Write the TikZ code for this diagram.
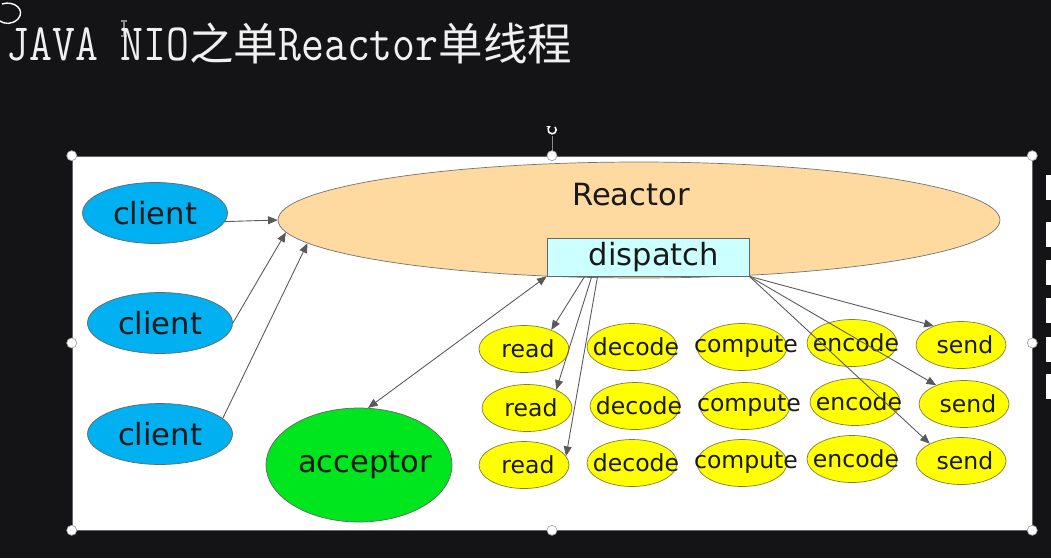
\documentclass[tikz,border=0pt]{standalone}
\usepackage{graphicx}
\usepackage{fontspec}
\setmainfont{DejaVu Sans}
\newfontfamily\cjk{Noto Sans CJK SC}
\usetikzlibrary{shapes.geometric, arrows.meta, positioning, calc}

\definecolor{bgdark}{RGB}{20,20,22}
\definecolor{clientblue}{RGB}{0,176,240}
\definecolor{reactorfill}{RGB}{255,218,160}
\definecolor{dispfill}{RGB}{204,255,255}
\definecolor{accgreen}{RGB}{0,230,30}
\definecolor{taskfill}{RGB}{255,255,0}
\definecolor{taskline}{RGB}{130,125,60}

\newcommand{\tmono}[1]{\scalebox{1}[1.18]{\ttfamily\addfontfeatures{FakeBold=2.5}#1}}

\begin{document}
\begin{tikzpicture}[
        x=0.02cm, y=-0.02cm,
        slide/.style={rectangle, fill=white, draw=black!60, line width=0.4pt, minimum width=19.2cm, minimum height=7.48cm, inner sep=0pt},
        handle/.style={circle, draw=black!35, fill=white, line width=0.4pt, inner sep=0pt, minimum size=0.2cm},
        titletxt/.style={text=white!94!black, font=\fontsize{25.3}{30}\selectfont, inner sep=0pt},
        bigtxt/.style={text=black!90, font=\fontsize{17.4}{20}\selectfont, inner sep=0pt},
        client/.style={ellipse, draw=black!60, fill=clientblue, minimum width=2.9cm, minimum height=1.22cm, inner sep=0pt, bigtxt},
        reactorbox/.style={ellipse, draw=black!55, fill=reactorfill, minimum width=14.44cm, minimum height=2.32cm, inner sep=0pt},
        dispbox/.style={rectangle, draw=black!60, fill=dispfill, minimum width=4.04cm, minimum height=0.76cm, inner sep=0pt, bigtxt},
        accbox/.style={ellipse, draw=black!60, fill=accgreen, minimum width=3.72cm, minimum height=2.28cm, inner sep=0pt, bigtxt},
        task/.style={ellipse, draw=taskline, fill=taskfill, minimum width=1.8cm, minimum height=0.94cm, inner sep=0pt, text=black!90, font=\fontsize{13.4}{16}\selectfont},
        conn/.style={draw=black!65, line width=0.5pt, -{Triangle[length=5.5pt,width=4.5pt]}},
        conn2/.style={draw=black!65, line width=0.5pt, {Triangle[length=5.5pt,width=4.5pt]}-{Triangle[length=5.5pt,width=4.5pt]}}
    ]
        \useasboundingbox (0,0) rectangle (1051,558);
        \fill[bgdark] (0,0) rectangle (1051,558);
        \draw[white, line width=0.8pt] (2,4) .. controls (14,0) and (26,10) .. (18,19) .. controls (12,25) and (4,24) .. (0,21);
        \draw[black!45, line width=0.6pt] (124,21) -- (124,36) (121,21) -- (127,21) (121,36) -- (127,36);
        \foreach \y in {175,222,260,298,337,374}
            \fill[white] (1046,\y) rectangle (1051,\y+25);

        \node[titletxt, anchor=base west] (title) at (6,60) {\tmono{JAVA NIO}{\cjk 之单}\tmono{Reactor}{\cjk 单线程}};

        \node[slide] (slide) at (552,343) {};
        \draw[black!45, line width=0.5pt] (slide.north) -- ++(0,-20);
        \draw[white, line width=0.9pt, -{Stealth[length=2.5pt]}] (555,127) arc[start angle=45, end angle=-250, radius=0.08cm];
        \foreach \a [count=\i] in {north west, north, north east, east, south east, south, south west, west}
            \node[handle] (h\i) at (slide.\a) {};

        \node[reactorbox] (reactor) at (639,220) {};
        \node[bigtxt, anchor=base] (reactortxt) at ([shift={(-8,-15)}]reactor.center) {Reactor};
        \node[dispbox] (dispatch) at (648,257) {\hspace{0.24cm}dispatch};

        \node[client] (client1) at (155,213) {client};
        \node[client] (client2) at (160,323) {client};
        \node[client] (client3) at (160,434) {client};
        \node[accbox] (acceptor) at (359,465) {\makebox[0pt]{\hspace{0.24cm}acceptor}};

        \foreach \nm/\x/\dy in {read/524/0, decode/632/-2, compute/742/-2, encode/852/-6, send/961/-4}
            \foreach \r/\y/\dx in {1/349/0, 2/408/3, 3/465/0}
                \node[task] (\nm\r) at (\x+\dx, \y+\dy) {\makebox[0pt]{\hspace{0.16cm}\nm}};

        \draw[conn] (client1.-7) -- (reactor.west);
        \draw[conn] (client2.east) -- (reactor.182.5);
        \draw[conn] (client3.14) -- (reactor.184.4);
        \draw[conn2] (dispatch.south west) -- (acceptor.81);
        \draw[conn] (dispatch.197) -- (read1.35);
        \draw[conn] (dispatch.199) -- (read2.32);
        \draw[conn] (dispatch.201) -- (read3.12);
        \draw[conn] (dispatch.south east) -- (send1.145);
        \draw[conn] (dispatch.south east) -- (send2.146);
        \draw[conn] (dispatch.south east) -- (send3.151);
    \end{tikzpicture}
\end{document}
